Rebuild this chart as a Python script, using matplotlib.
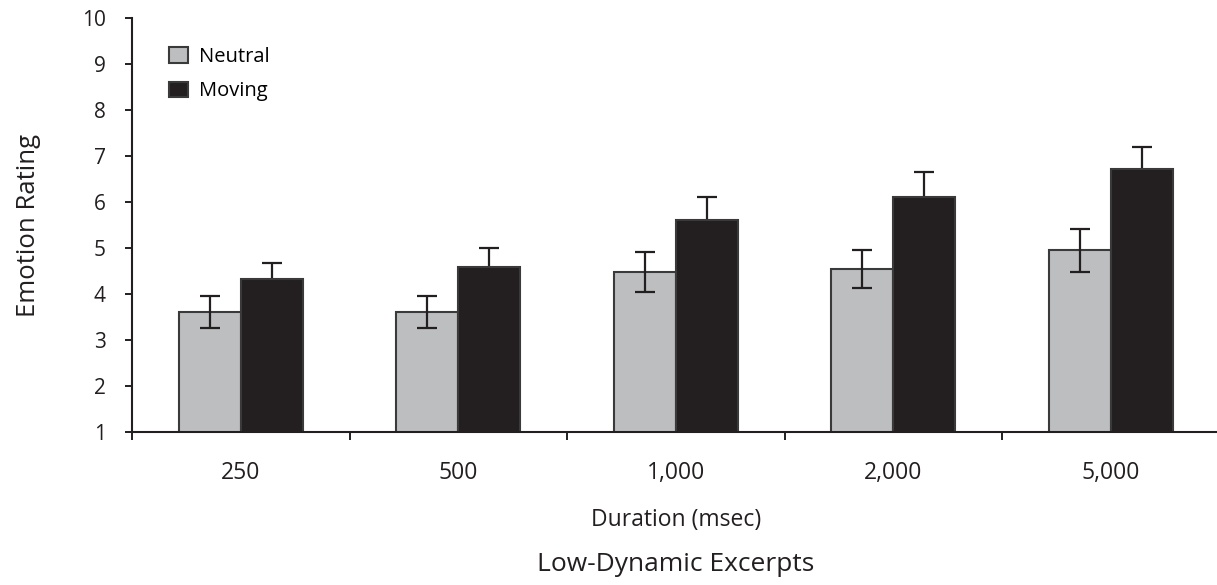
import matplotlib.pyplot as plt
import numpy as np

plt.rcParams['font.family'] = ['Open Sans', 'DejaVu Sans']

durations = ['250', '500', '1,000', '2,000', '5,000']
neutral = [3.61, 3.61, 4.48, 4.54, 4.95]
neutral_err = [0.35, 0.34, 0.43, 0.41, 0.46]
moving = [4.32, 4.59, 5.62, 6.12, 6.73]
moving_err = [0.35, 0.41, 0.50, 0.54, 0.46]

dark = '#231f20'
grey = '#bcbec0'

fig = plt.figure(figsize=(12.17, 5.85), dpi=100)
ax = fig.add_axes([0.1085, 0.2615, 0.8936, 0.7075])

x = np.arange(len(durations))
w = 0.285

ax.bar(x - w / 2, neutral, w, bottom=0, color=grey, edgecolor='#3a3a3a',
       linewidth=1.5, label='Neutral', zorder=2)
ax.bar(x + w / 2, moving, w, bottom=0, color=dark, edgecolor='#3a3a3a',
       linewidth=1.5, label='Moving', zorder=2)
ax.errorbar(x - w / 2, neutral, yerr=neutral_err, fmt='none', ecolor=dark,
            elinewidth=1.6, capsize=7, capthick=1.6, zorder=3)
ax.errorbar(x + w / 2, moving, yerr=moving_err, fmt='none', ecolor=dark,
            elinewidth=1.6, capsize=7, capthick=1.6, zorder=1)

ax.set_xlim(-0.5, 4.5)
ax.set_ylim(1, 10)
ax.set_yticks(range(1, 11))

ax.set_xticks(x)
ax.set_xticklabels(durations)
ax.set_xticks(np.arange(-0.5, 5.0, 1.0), minor=True)
ax.tick_params(axis='x', which='major', length=0, pad=21, labelsize=16.5,
               labelcolor=dark)
ax.tick_params(axis='x', which='minor', length=6, width=1.4, color=dark,
               direction='out')
ax.tick_params(axis='y', length=5, width=1.4, color=dark, direction='out',
               pad=14, labelsize=15, labelcolor=dark)

for s in ['top', 'right']:
    ax.spines[s].set_visible(False)
for s in ['left', 'bottom']:
    ax.spines[s].set_color(dark)
    ax.spines[s].set_linewidth(1.5)

ax.set_ylabel('Emotion Rating', fontsize=18.5, color=dark, va='center')
ax.yaxis.set_label_coords(-0.0956, 0.5)
ax.set_xlabel('Duration (msec)', fontsize=16.5, color=dark, va='center')
ax.xaxis.set_label_coords(0.5, -0.2126)
fig.text(0.5555, 0.0342, 'Low-Dynamic Excerpts', ha='center', va='center',
         fontsize=19, color=dark)

ax.legend(loc='upper left', bbox_to_anchor=(0.034, 0.93), frameon=False,
          fontsize=14.5, handlelength=0.95, handleheight=0.8,
          handletextpad=0.55, labelspacing=0.7, borderpad=0,
          borderaxespad=0)

fig.savefig('out.png', dpi=100)
